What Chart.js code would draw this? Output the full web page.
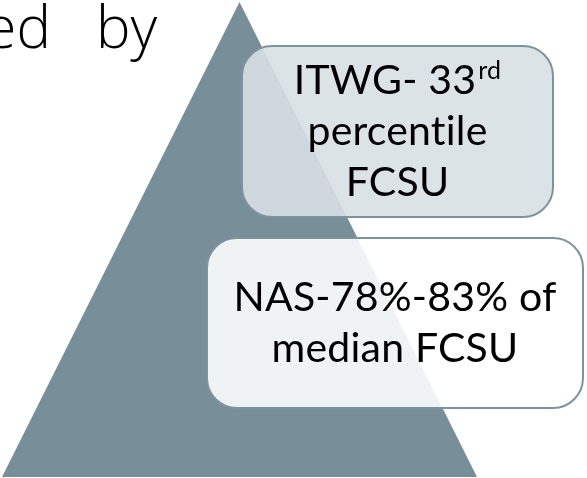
<!DOCTYPE html>
<html>
<head>
<meta charset="utf-8">
<script src="https://cdn.jsdelivr.net/npm/chart.js@4.4.1/dist/chart.umd.min.js"></script>
<style>
  html, body { margin: 0; padding: 0; background: #ffffff; }
  #wrap { width: 587px; height: 478px; position: relative; }
</style>
</head>
<body>
<div id="wrap"><canvas id="pyramid"></canvas></div>
<script>
// diagram space: x 0..587, y 0..478 (y grows downward)
const pyramidX = [2, 239.5, 477];
const pyramidY = [477, 2, 477];
const pyramidBase = 477;

const boxLines = [
  [['ITWG- 33', 'rd'], ['percentile'], ['FCSU']],
  [['NAS-78%-83% of'], ['median FCSU']],
];
const boxLeft = [242, 207];
const boxRight = [553, 583];
const boxTop = [46, 238];
const boxBottom = [217, 408];

const titleWords = ['ed', 'by'];

const COLORS = {
  pyramid: '#788e99',
  border: '#7d939e',
  fills: ['rgba(216,223,228,0.89)', 'rgba(255,255,255,0.89)'],
  text: '#000000',
};

const boxesPlugin = {
  id: 'boxes',
  afterDatasetsDraw(chart) {
    const { ctx, scales } = chart;
    const px = (v) => scales.x.getPixelForValue(v);
    const py = (v) => scales.y.getPixelForValue(v);
    ctx.save();

    // title fragment
    ctx.fillStyle = COLORS.text;
    ctx.font = '300 58px "Open Sans"';
    ctx.textBaseline = 'alphabetic';
    ctx.textAlign = 'right';
    ctx.fillText(titleWords[0], px(51), py(48));
    ctx.textAlign = 'left';
    ctx.fillText(titleWords[1], px(96), py(48));

    // small spacing keeps "ti" from turning into a ligature
    ctx.letterSpacing = '0.2px';
    boxLines.forEach((lines, i) => {
      const x0 = px(boxLeft[i]), x1 = px(boxRight[i]);
      const y0 = py(boxTop[i]), y1 = py(boxBottom[i]);
      ctx.beginPath();
      ctx.roundRect(x0, y0, x1 - x0, y1 - y0, 30);
      ctx.fillStyle = COLORS.fills[i];
      ctx.fill();
      ctx.lineWidth = 2;
      ctx.strokeStyle = COLORS.border;
      ctx.stroke();

      const lh = 51;
      const cx = (x0 + x1) / 2;
      const cy = (y0 + y1) / 2;
      const first = cy - (lines.length - 1) * lh / 2 + 13;
      lines.forEach((parts, j) => {
        const base = first + j * lh;
        ctx.font = '41px Lato';
        const w0 = ctx.measureText(parts[0]).width;
        let w1 = 0;
        if (parts[1]) {
          ctx.font = '25px Lato';
          w1 = ctx.measureText(parts[1]).width + 2;
        }
        const start = cx - (w0 + w1) / 2;
        ctx.fillStyle = COLORS.text;
        ctx.textAlign = 'left';
        ctx.font = '41px Lato';
        ctx.fillText(parts[0], start, base);
        if (parts[1]) {
          ctx.font = '25px Lato';
          ctx.fillText(parts[1], start + w0 + 2, base - 15);
        }
      });
    });
    ctx.restore();
  },
};

new Chart(document.getElementById('pyramid'), {
  type: 'scatter',
  plugins: [boxesPlugin],
  data: {
    datasets: [{
      data: pyramidX.map((x, i) => ({ x, y: pyramidY[i] })),
      showLine: true,
      borderWidth: 0,
      borderColor: COLORS.pyramid,
      backgroundColor: COLORS.pyramid,
      pointRadius: 0,
      tension: 0,
      fill: { value: pyramidBase },
    }],
  },
  options: {
    responsive: true,
    maintainAspectRatio: false,
    animation: false,
    layout: { padding: 0 },
    plugins: {
      legend: { display: false },
      tooltip: { enabled: false },
    },
    scales: {
      x: { type: 'linear', display: false, min: 0, max: 587 },
      y: { type: 'linear', display: false, min: 0, max: 478, reverse: true },
    },
  },
});
</script>
</body>
</html>
